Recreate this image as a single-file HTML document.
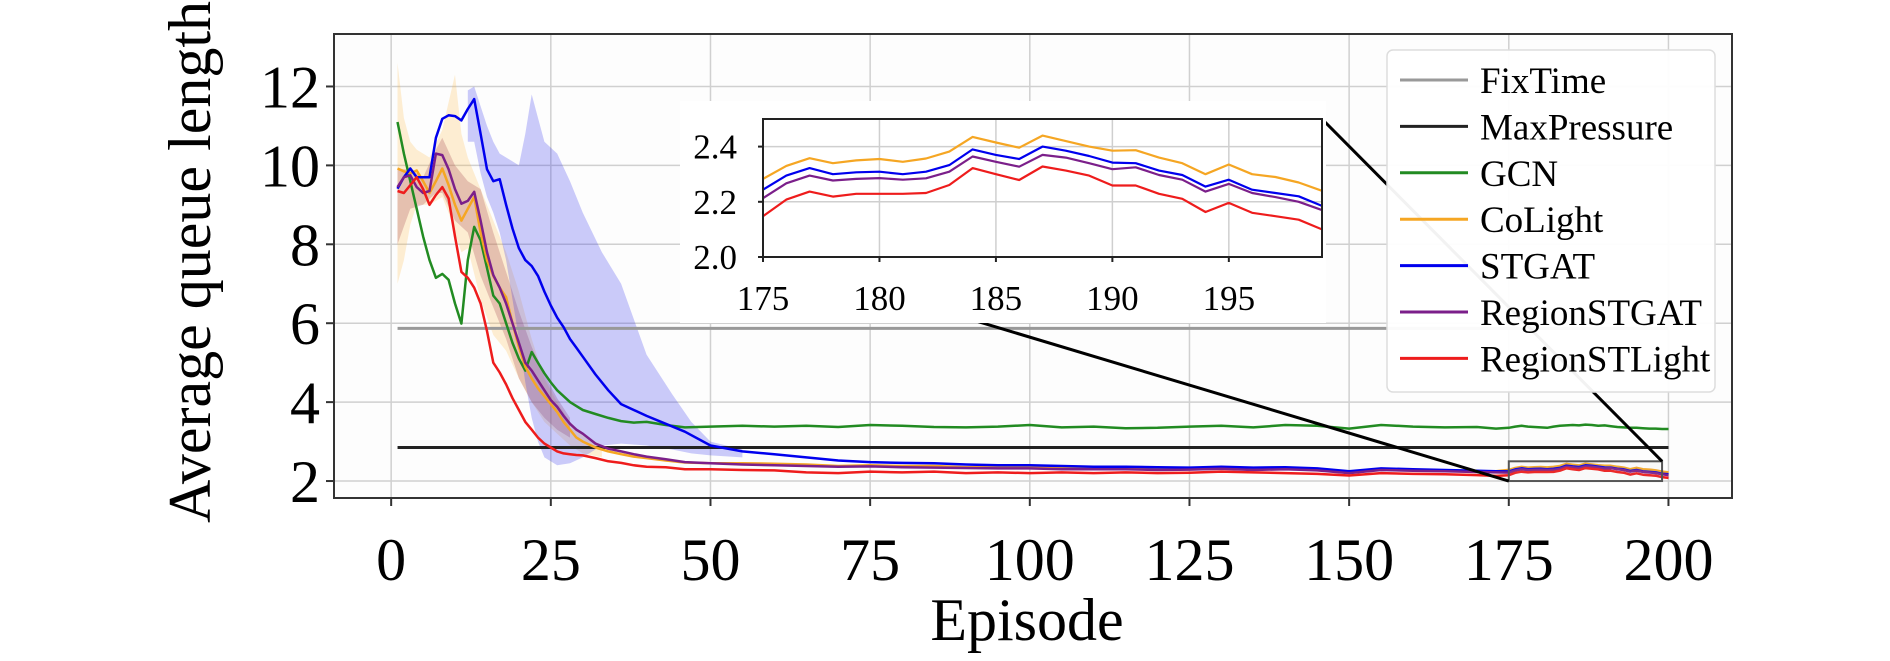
<!DOCTYPE html>
<html><head><meta charset="utf-8"><style>
html,body{margin:0;padding:0;background:#fff;}
svg{display:block;font-family:"Liberation Serif",serif;}
</style></head><body>
<svg id="chart" width="1890" height="661" viewBox="0 0 1890 661" xmlns="http://www.w3.org/2000/svg">
<defs>
<clipPath id="mainClip"><rect x="334" y="34" width="1398" height="464"/></clipPath>
<clipPath id="insetClip"><rect x="763" y="119" width="559" height="138"/></clipPath>
</defs>
<rect x="334" y="34" width="1398" height="464" fill="#fdfdfd"/>
<g id="mainGrid"></g>
<g id="mainBands" clip-path="url(#mainClip)"></g>
<g id="mainLines" clip-path="url(#mainClip)"></g>
<g id="mainAxes"></g>
<g id="zoomMarks"></g>
<g id="inset"></g>
<g id="legend"></g>
<text x="1027" y="640" font-size="60" text-anchor="middle">Episode</text>
<text transform="translate(210,262) rotate(-90)" font-size="60" text-anchor="middle">Average queue length</text>
</svg>
<script>
// ---- data ----
const episodes = [1,2,3,4,5,6,7,8,9,10,11,12,13,14,15,16,17,18,19,20,21,22,23,24,25,26,27,28,29,30,32,34,36,38,40,43,46,50,55,60,65,70,75,80,85,90,95,100,105,110,115,120,125,130,135,140,145,150,155,160,165,170,173,175,176,177,178,179,180,181,182,183,184,185,186,187,188,189,190,191,192,193,194,195,196,197,198,199,200];
const gcnValues = [11.1,10.3,9.6,8.9,8.2,7.6,7.15,7.25,7.1,6.5,5.99,7.6,8.44,8.1,7.4,6.7,6.5,6.0,5.5,5.1,4.8,5.27,5.0,4.73,4.5,4.3,4.15,4.0,3.9,3.8,3.7,3.6,3.52,3.48,3.5,3.42,3.36,3.38,3.4,3.38,3.4,3.37,3.42,3.4,3.37,3.36,3.38,3.42,3.36,3.38,3.34,3.35,3.38,3.4,3.36,3.42,3.4,3.33,3.42,3.38,3.36,3.37,3.33,3.35,3.38,3.4,3.38,3.37,3.36,3.35,3.38,3.4,3.41,3.42,3.41,3.43,3.42,3.4,3.41,3.39,3.37,3.36,3.35,3.35,3.34,3.33,3.33,3.32,3.32];
const colightValues = [9.92,9.85,9.8,9.87,9.6,9.3,9.6,9.92,9.5,9.0,8.6,8.9,9.2,8.3,7.6,7.2,6.9,6.66,6.0,5.4,4.9,4.6,4.35,4.15,3.95,3.75,3.5,3.3,3.1,3.0,2.85,2.75,2.68,2.62,2.58,2.52,2.47,2.45,2.45,2.44,2.42,2.38,2.4,2.38,2.38,2.35,2.36,2.34,2.33,2.32,2.33,2.32,2.3,2.33,2.3,2.32,2.3,2.22,2.3,2.28,2.27,2.25,2.25,2.283,2.33,2.358,2.34,2.35,2.355,2.345,2.357,2.382,2.435,2.415,2.396,2.44,2.42,2.40,2.385,2.387,2.36,2.34,2.30,2.335,2.30,2.29,2.27,2.24,2.22];
const stgatValues = [9.41,9.7,9.92,9.7,9.7,9.7,10.7,11.18,11.27,11.25,11.14,11.43,11.68,10.8,9.9,9.6,9.65,9.0,8.4,7.9,7.6,7.45,7.2,6.8,6.45,6.14,5.9,5.6,5.38,5.15,4.7,4.3,3.95,3.8,3.65,3.45,3.25,2.9,2.75,2.68,2.6,2.52,2.48,2.46,2.45,2.42,2.4,2.4,2.38,2.36,2.36,2.35,2.34,2.36,2.34,2.35,2.32,2.25,2.32,2.3,2.28,2.26,2.25,2.244,2.295,2.322,2.30,2.307,2.309,2.30,2.309,2.333,2.39,2.37,2.355,2.40,2.385,2.366,2.342,2.34,2.313,2.297,2.255,2.28,2.244,2.232,2.22,2.185,2.17];
const regionStgatValues = [9.45,9.7,9.75,9.45,9.3,9.35,10.3,10.26,9.9,9.4,9.03,9.1,9.33,8.6,7.8,7.22,6.9,6.5,6.0,5.5,5.0,4.8,4.55,4.3,4.05,3.88,3.65,3.45,3.3,3.2,2.95,2.82,2.75,2.68,2.62,2.55,2.48,2.45,2.42,2.4,2.38,2.36,2.37,2.35,2.34,2.33,2.32,2.32,2.3,2.3,2.3,2.28,2.29,2.31,2.28,2.3,2.27,2.2,2.28,2.26,2.25,2.23,2.22,2.213,2.267,2.295,2.277,2.283,2.286,2.28,2.285,2.309,2.364,2.345,2.327,2.37,2.36,2.34,2.318,2.325,2.297,2.28,2.237,2.265,2.232,2.217,2.20,2.17,2.15];
const regionStlightValues = [9.35,9.3,9.5,9.7,9.4,9.0,9.25,9.45,9.16,8.2,7.3,7.15,6.9,6.5,5.8,5.0,4.75,4.45,4.1,3.8,3.5,3.3,3.1,2.95,2.85,2.75,2.7,2.68,2.66,2.65,2.58,2.5,2.46,2.4,2.36,2.35,2.3,2.3,2.28,2.27,2.22,2.2,2.24,2.22,2.24,2.2,2.22,2.2,2.22,2.2,2.22,2.2,2.21,2.24,2.22,2.2,2.18,2.14,2.2,2.18,2.17,2.15,2.13,2.148,2.208,2.237,2.219,2.229,2.229,2.229,2.232,2.261,2.322,2.30,2.279,2.328,2.313,2.295,2.259,2.259,2.229,2.211,2.163,2.196,2.16,2.148,2.135,2.10,2.08];
const fixTimeValue = 5.87;
const maxPressureValue = 2.85;
const stgatBandEp = [12,13,14,15,16,17,18,19,20,21,22,23,24,26,28,30,33,36,40,44,47,50,55];
const stgatBandUpper = [11.9,12.0,11.5,11.0,10.6,10.3,10.2,10.1,10.0,10.8,11.8,11.2,10.6,10.3,9.6,8.8,7.8,7.0,5.2,4.2,3.5,3.0,2.8];
const stgatBandLower = [10.6,10.6,9.8,9.2,8.8,8.3,7.6,6.6,5.6,4.5,3.6,3.0,2.6,2.4,2.45,2.6,2.9,2.95,2.9,2.8,2.7,2.65,2.6];
const colightBandEp = [1,2,3,4,6,8,9,10,11,12,14,16,18,20,22,24,26,28,30,33];
const colightBandUpper = [12.6,11.2,10.6,10.4,10.2,10.9,11.6,12.3,10.8,10.2,9.4,8.6,7.8,6.8,5.6,4.6,4.0,3.5,3.2,2.9];
const colightBandLower = [7.0,7.6,8.5,9.0,9.0,9.2,8.8,8.3,7.8,7.9,6.6,5.7,5.3,4.6,4.0,3.5,3.2,2.9,2.7,2.6];
const regionBandEp = [1,3,5,7,8,10,12,14,16,18,20,22,24,26,28];
const regionBandUpper = [9.9,9.9,9.7,10.4,10.7,10.0,9.6,9.4,8.3,7.3,6.3,5.4,4.7,4.1,3.6];
const regionBandLower = [8.0,8.9,9.0,9.3,9.3,8.6,8.3,7.2,6.4,5.6,4.6,4.0,3.6,3.3,3.1];
const xTicks = [0,25,50,75,100,125,150,175,200];
const yTicks = [2,4,6,8,10,12];
const insetXTicks = [175,180,185,190,195];
const insetYTicks = [2.0,2.2,2.4];
const seriesNames = ["FixTime","MaxPressure","GCN","CoLight","STGAT","RegionSTGAT","RegionSTLight"];
const seriesColors = ["#999999","#222222","#228b22","#f5a623","#0000ee","#7b1f8a","#ee1c1c"];

// ---- scales ----
const PX0=334, PX1=1732, PY0=34, PY1=498;
const XMIN=-8.95, XMAX=209.95, YMIN=1.57, YMAX=13.33;
function sx(v){return PX0+(v-XMIN)/(XMAX-XMIN)*(PX1-PX0);}
function sy(v){return PY1-(v-YMIN)/(YMAX-YMIN)*(PY1-PY0);}
const IX0=763, IX1=1322, IY0=119, IY1=257;
const IXMIN=175, IXMAX=199, IYMIN=2.0, IYMAX=2.5;
function ix(v){return IX0+(v-IXMIN)/(IXMAX-IXMIN)*(IX1-IX0);}
function iy(v){return IY1-(v-IYMIN)/(IYMAX-IYMIN)*(IY1-IY0);}
const NS="http://www.w3.org/2000/svg";
function mk(tag,parent){const e=document.createElementNS(NS,tag);parent.appendChild(e);return e;}
function pathFrom(xs,ys,fx,fy){return xs.map((x,i)=>(i?"L":"M")+fx(x).toFixed(1)+","+fy(ys[i]).toFixed(1)).join(" ");}

// ---- main grid & axes ----
const grid=document.getElementById('mainGrid');
xTicks.forEach(t=>{const l=mk('line',grid);


l.setAttribute('x1',sx(t));l.setAttribute('x2',sx(t));l.setAttribute('y1',PY0);l.setAttribute('y2',PY1);l.setAttribute('stroke','#d0d0d0');l.setAttribute('stroke-width','1.5');});
yTicks.forEach(t=>{const l=mk('line',grid);


l.setAttribute('x1',PX0);l.setAttribute('x2',PX1);l.setAttribute('y1',sy(t));l.setAttribute('y2',sy(t));l.setAttribute('stroke','#d0d0d0');l.setAttribute('stroke-width','1.5');});

const axes=document.getElementById('mainAxes');
const frame=mk('rect',axes);


frame.setAttribute('x',PX0);frame.setAttribute('y',PY0);frame.setAttribute('width',PX1-PX0);frame.setAttribute('height',PY1-PY0);frame.setAttribute('fill','none');frame.setAttribute('stroke','#333');frame.setAttribute('stroke-width','2');
xTicks.forEach(t=>{const tk=mk('line',axes);


tk.setAttribute('x1',sx(t));tk.setAttribute('x2',sx(t));tk.setAttribute('y1',PY1);tk.setAttribute('y2',PY1+8);tk.setAttribute('stroke','#333');tk.setAttribute('stroke-width','2');
const tx=mk('text',axes);


tx.setAttribute('x',sx(t));tx.setAttribute('y',580);tx.setAttribute('font-size','60');tx.setAttribute('text-anchor','middle');tx.textContent=t;});
yTicks.forEach(t=>{const tk=mk('line',axes);


tk.setAttribute('x1',PX0-8);tk.setAttribute('x2',PX0);tk.setAttribute('y1',sy(t));tk.setAttribute('y2',sy(t));tk.setAttribute('stroke','#333');tk.setAttribute('stroke-width','2');
const tx=mk('text',axes);


tx.setAttribute('x',320);tx.setAttribute('y',sy(t)+21);tx.setAttribute('font-size','60');tx.setAttribute('text-anchor','end');tx.textContent=t;});

// ---- bands ----
const bands=document.getElementById('mainBands');
function band(ep,up,lo,color,name,fx,fy,parent){
  const p=mk('path',parent);
  
  
  const d=pathFrom(ep,up,fx,fy)+" "+ep.slice().reverse().map((x,i)=>"L"+fx(x).toFixed(1)+","+fy(lo[lo.length-1-i]).toFixed(1)).join(" ")+" Z";
  p.setAttribute('d',d);p.setAttribute('fill',color);p.setAttribute('stroke','none');
}
band(colightBandEp,colightBandUpper,colightBandLower,'rgba(255,180,60,0.22)','colight-band',sx,sy,bands);
band(regionBandEp,regionBandUpper,regionBandLower,'rgba(160,60,70,0.25)','region-band',sx,sy,bands);
band(stgatBandEp,stgatBandUpper,stgatBandLower,'rgba(40,40,240,0.24)','stgat-band',sx,sy,bands);

// ---- lines ----
const lines=document.getElementById('mainLines');
function hline(val,color,name){const l=mk('line',lines);


l.setAttribute('x1',sx(1));l.setAttribute('x2',sx(200));l.setAttribute('y1',sy(val));l.setAttribute('y2',sy(val));l.setAttribute('stroke',color);l.setAttribute('stroke-width','3');}
hline(fixTimeValue,seriesColors[0],'fixtime-line');
hline(maxPressureValue,seriesColors[1],'maxpressure-line');
const seriesData=[gcnValues,colightValues,stgatValues,regionStgatValues,regionStlightValues];
const seriesIds=['gcn-line','colight-line','stgat-line','regionstgat-line','regionstlight-line'];
seriesData.forEach((vals,k)=>{const p=mk('path',lines);


p.setAttribute('d',pathFrom(episodes,vals,sx,sy));p.setAttribute('fill','none');p.setAttribute('stroke',seriesColors[k+2]);p.setAttribute('stroke-width','2.5');p.setAttribute('stroke-linejoin','round');});

// ---- zoom indicator ----
const zm=document.getElementById('zoomMarks');
const zr=mk('rect',zm);


zr.setAttribute('x',sx(IXMIN));zr.setAttribute('y',sy(IYMAX));zr.setAttribute('width',sx(IXMAX)-sx(IXMIN));zr.setAttribute('height',sy(IYMIN)-sy(IYMAX));zr.setAttribute('fill','rgba(200,200,200,0.08)');zr.setAttribute('stroke','#555');zr.setAttribute('stroke-width','2');
const c1=mk('line',zm);


c1.setAttribute('x1',IX1);c1.setAttribute('y1',IY0);c1.setAttribute('x2',sx(IXMAX));c1.setAttribute('y2',sy(IYMAX));c1.setAttribute('stroke','#000');c1.setAttribute('stroke-width','3');
const c2=mk('line',zm);


c2.setAttribute('x1',IX0);c2.setAttribute('y1',IY1);c2.setAttribute('x2',sx(IXMIN));c2.setAttribute('y2',sy(IYMIN));c2.setAttribute('stroke','#000');c2.setAttribute('stroke-width','3');

// ---- inset ----
const ins=document.getElementById('inset');
const bg=mk('rect',ins);


bg.setAttribute('x',680);bg.setAttribute('y',101);bg.setAttribute('width',646);bg.setAttribute('height',222);bg.setAttribute('fill','#fff');
const ig=mk('g',ins);


insetXTicks.forEach(t=>{const l=mk('line',ig);


l.setAttribute('x1',ix(t));l.setAttribute('x2',ix(t));l.setAttribute('y1',IY0);l.setAttribute('y2',IY1);l.setAttribute('stroke','#cfcfcf');l.setAttribute('stroke-width','1.5');
const tk=mk('line',ig);


tk.setAttribute('x1',ix(t));tk.setAttribute('x2',ix(t));tk.setAttribute('y1',IY1);tk.setAttribute('y2',IY1+5);tk.setAttribute('stroke','#222');tk.setAttribute('stroke-width','2');
const tx=mk('text',ig);


tx.setAttribute('x',ix(t));tx.setAttribute('y',310);tx.setAttribute('font-size','35');tx.setAttribute('text-anchor','middle');tx.textContent=t;});
insetYTicks.forEach(t=>{const l=mk('line',ig);


l.setAttribute('x1',IX0);l.setAttribute('x2',IX1);l.setAttribute('y1',iy(t));l.setAttribute('y2',iy(t));l.setAttribute('stroke','#cfcfcf');l.setAttribute('stroke-width','1.5');
const tk=mk('line',ig);


tk.setAttribute('x1',IX0-5);tk.setAttribute('x2',IX0);tk.setAttribute('y1',iy(t));tk.setAttribute('y2',iy(t));tk.setAttribute('stroke','#222');tk.setAttribute('stroke-width','2');
const tx=mk('text',ig);


tx.setAttribute('x',737);tx.setAttribute('y',iy(t)+12);tx.setAttribute('font-size','35');tx.setAttribute('text-anchor','end');tx.textContent=t.toFixed(1);});
const il=mk('g',ins);


il.setAttribute('clip-path','url(#insetClip)');
[1,2,3,4].forEach(k=>{const p=mk('path',il);


p.setAttribute('d',pathFrom(episodes,seriesData[k],ix,iy));p.setAttribute('fill','none');p.setAttribute('stroke',seriesColors[k+2]);p.setAttribute('stroke-width','2.2');p.setAttribute('stroke-linejoin','round');});
const ifr=mk('rect',ins);


ifr.setAttribute('x',IX0);ifr.setAttribute('y',IY0);ifr.setAttribute('width',IX1-IX0);ifr.setAttribute('height',IY1-IY0);ifr.setAttribute('fill','none');ifr.setAttribute('stroke','#222');ifr.setAttribute('stroke-width','2');

// ---- legend ----
const lg=document.getElementById('legend');
const lb=mk('rect',lg);


lb.setAttribute('x',1387);lb.setAttribute('y',50);lb.setAttribute('width',328);lb.setAttribute('height',342);lb.setAttribute('rx',6);lb.setAttribute('fill','rgba(255,255,255,0.95)');lb.setAttribute('stroke','#dddddd');lb.setAttribute('stroke-width','1.5');
seriesNames.forEach((n,i)=>{const y=80+i*46.4;
const g=mk('g',lg);


const l=mk('line',g);


l.setAttribute('x1',1400);l.setAttribute('x2',1468);l.setAttribute('y1',y);l.setAttribute('y2',y);l.setAttribute('stroke',seriesColors[i]);l.setAttribute('stroke-width','3');
const t=mk('text',g);


t.setAttribute('x',1480);t.setAttribute('y',y+13);t.setAttribute('font-size','37');t.textContent=n;});
</script>
</body></html>
